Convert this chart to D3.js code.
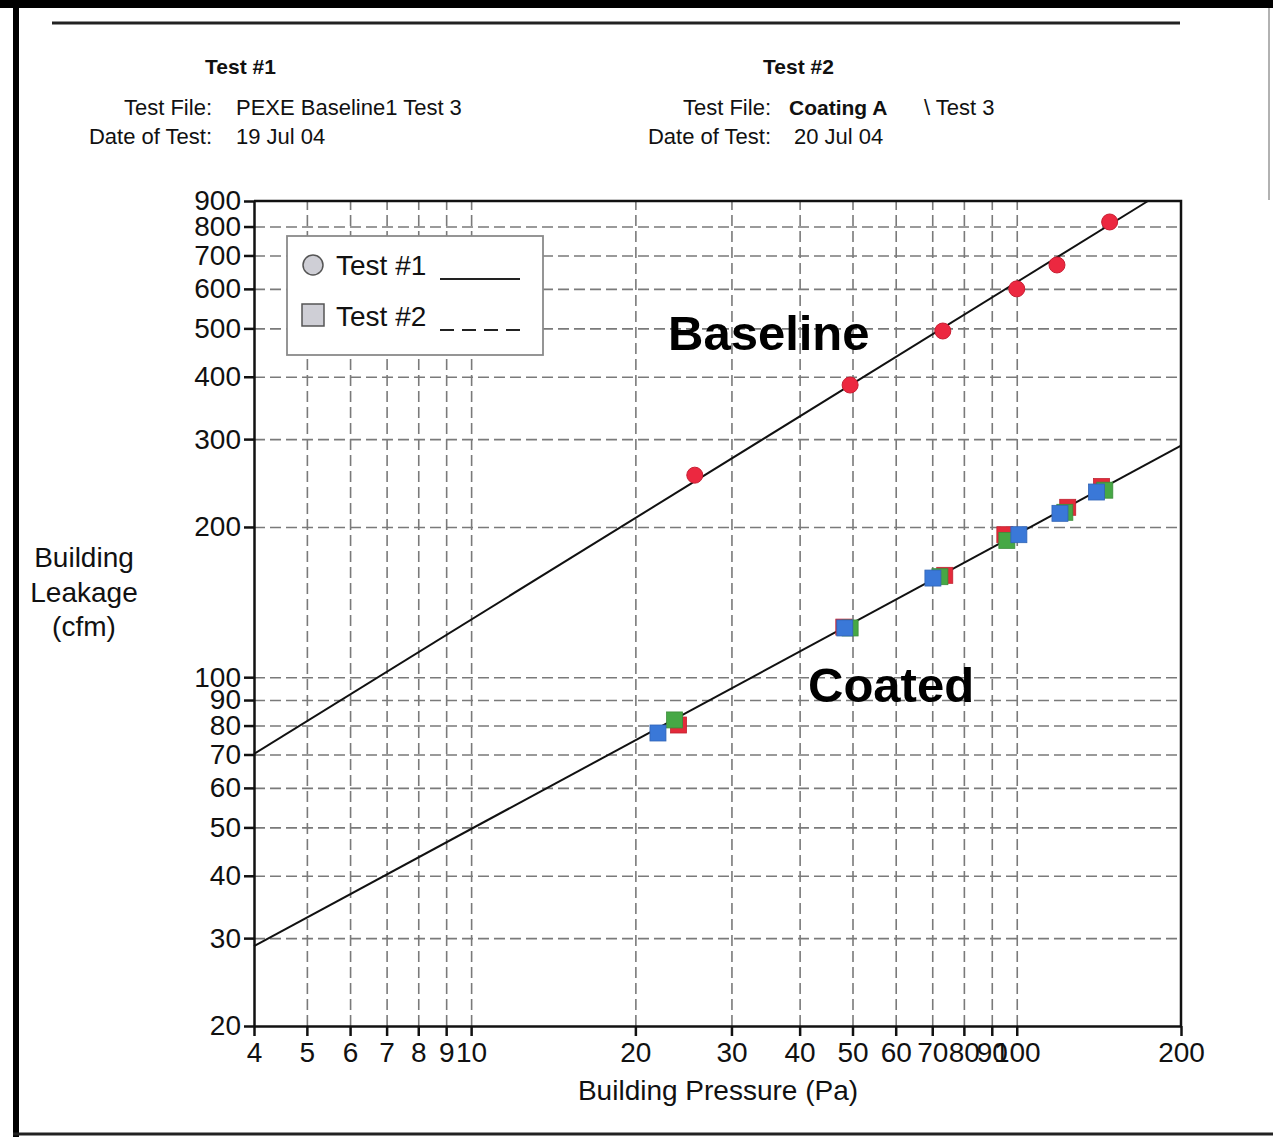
<!DOCTYPE html>
<html>
<head>
<meta charset="utf-8">
<script src="https://cdn.jsdelivr.net/npm/d3@7"></script>
<style>
  body { margin: 0; background: #fff; }
  svg { display: block; font-family: "Liberation Sans", Arial, sans-serif; }
  .grid line { stroke: #7a7a7a; stroke-width: 1.6; stroke-dasharray: 11,5; }
  .grid path { display: none; }
  .axis path, .axis line { stroke: #111; stroke-width: 2.5; }
  .axis text { font-size: 28px; fill: #111; }
</style>
</head>
<body>
<div id="chart"></div>
<script>
// values
const xTicks = [4, 5, 6, 7, 8, 9, 10, 20, 30, 40, 50, 60, 70, 80, 90, 100, 200];
const yTicks = [20, 30, 40, 50, 60, 70, 80, 90, 100, 200, 300, 400, 500, 600, 700, 800, 900];
const xGrid = [5, 6, 7, 8, 9, 10, 20, 30, 40, 50, 60, 70, 80, 90, 100];
const yGrid = [30, 40, 50, 60, 70, 80, 90, 100, 200, 300, 400, 500, 600, 700, 800];

// test #1 (baseline)
const pressure1 = [25.7, 49.5, 73.2, 100, 118.5, 148];
const flow1 = [254, 385, 494, 600, 670, 817];
const fitBaseline = [[4, 70.2], [174, 900]];

// test #2 (coated), three overlapping runs
const pressureRed = [24.0, 48.2, 73.8, 95.1, 124, 143];
const flowRed = [80.2, 126, 160, 193, 219, 241];
const pressureGreen = [23.6, 49.5, 72.3, 95.9, 122.5, 145];
const flowGreen = [82.1, 125.5, 159, 188, 214, 237];
const pressureBlue = [22.0, 48.4, 70.2, 100.9, 120, 140];
const flowBlue = [77.3, 125.5, 158, 193, 213, 235];
const fitCoated = [[4, 28.9], [200, 291]];

const W = 1273, H = 1137;
const plotLeft = 254, plotRight = 1181, plotTop = 201, plotBottom = 1026;

const svg = d3.select("#chart").append("svg")
    .attr("width", W)
    .attr("height", H);

svg.append("rect").attr("width", W).attr("height", H).attr("fill", "#fff");

// scan frame
svg.append("rect").attr("x", 0).attr("y", 0).attr("width", W).attr("height", 8).attr("fill", "#000");
svg.append("rect").attr("x", 13).attr("y", 0).attr("width", 6).attr("height", H).attr("fill", "#000");
svg.append("line").attr("x1", 13).attr("x2", W).attr("y1", 1134).attr("y2", 1134)
   .attr("stroke", "#222").attr("stroke-width", 3);
svg.append("line").attr("x1", 1269).attr("x2", 1269).attr("y1", 8).attr("y2", 200)
   .attr("stroke", "#999").attr("stroke-width", 1.5);
svg.append("line").attr("x1", 52).attr("x2", 1180).attr("y1", 23).attr("y2", 23)
   .attr("stroke", "#222").attr("stroke-width", 3);

// header
const header = [
    { x: 205, y: 74, text: "Test #1", anchor: "start", weight: "bold", size: 21 },
    { x: 212, y: 115, text: "Test File:", anchor: "end", weight: "normal", size: 22 },
    { x: 236, y: 115, text: "PEXE Baseline1 Test 3", anchor: "start", weight: "normal", size: 22 },
    { x: 212, y: 144, text: "Date of Test:", anchor: "end", weight: "normal", size: 22 },
    { x: 236, y: 144, text: "19 Jul 04", anchor: "start", weight: "normal", size: 22 },
    { x: 763, y: 74, text: "Test #2", anchor: "start", weight: "bold", size: 21 },
    { x: 771, y: 115, text: "Test File:", anchor: "end", weight: "normal", size: 22 },
    { x: 789, y: 115, text: "Coating A", anchor: "start", weight: "bold", size: 21 },
    { x: 924, y: 115, text: "\\ Test 3", anchor: "start", weight: "normal", size: 22 },
    { x: 771, y: 144, text: "Date of Test:", anchor: "end", weight: "normal", size: 22 },
    { x: 794, y: 144, text: "20 Jul 04", anchor: "start", weight: "normal", size: 22 }
];
svg.selectAll(".hdr")
   .data(header)
   .enter()
   .append("text")
   .attr("class", "hdr")
   .attr("x", d => d.x)
   .attr("y", d => d.y)
   .attr("text-anchor", d => d.anchor)
   .attr("font-weight", d => d.weight)
   .attr("font-size", d => d.size + "px")
   .attr("fill", "#111")
   .text(d => d.text);

const xScale = d3.scaleLog().domain([4, 200]).range([plotLeft, plotRight]);
const yScale = d3.scaleLog().domain([20, 900]).range([plotBottom, plotTop]);

// dashed grid
svg.append("g")
   .attr("class", "grid")
   .attr("transform", `translate(0, ${plotBottom})`)
   .call(d3.axisBottom(xScale).tickValues(xGrid).tickSize(-(plotBottom - plotTop)).tickFormat(""));
svg.append("g")
   .attr("class", "grid")
   .attr("transform", `translate(${plotLeft}, 0)`)
   .call(d3.axisLeft(yScale).tickValues(yGrid).tickSize(-(plotRight - plotLeft)).tickFormat(""));

// plot frame top and right
svg.append("path")
   .attr("d", `M${plotLeft},${plotTop}H${plotRight}V${plotBottom}`)
   .attr("fill", "none")
   .attr("stroke", "#111")
   .attr("stroke-width", 2.5);

// axes
svg.append("g")
   .attr("class", "axis")
   .attr("transform", `translate(0, ${plotBottom})`)
   .call(d3.axisBottom(xScale).tickValues(xTicks).tickSize(10).tickSizeOuter(0).tickPadding(6).tickFormat(d3.format("d")));
svg.append("g")
   .attr("class", "axis")
   .attr("transform", `translate(${plotLeft}, 0)`)
   .call(d3.axisLeft(yScale).tickValues(yTicks).tickSize(10).tickSizeOuter(0).tickPadding(3).tickFormat(d3.format("d")));

// axis titles
svg.append("text")
   .attr("x", 718)
   .attr("y", 1100)
   .attr("text-anchor", "middle")
   .attr("font-size", "28px")
   .attr("fill", "#111")
   .text("Building Pressure (Pa)");

svg.append("text")
   .attr("text-anchor", "middle")
   .attr("font-size", "28px")
   .attr("fill", "#111")
   .selectAll("tspan")
   .data(["Building", "Leakage", "(cfm)"])
   .enter()
   .append("tspan")
   .attr("x", 84)
   .attr("y", (d, i) => 567 + i * 34.5)
   .text(d => d);

// fitted lines
const line = d3.line().x(d => xScale(d[0])).y(d => yScale(d[1]));
svg.append("path").datum(fitBaseline).attr("d", line)
   .attr("fill", "none").attr("stroke", "#111").attr("stroke-width", 2);
svg.append("path").datum(fitCoated).attr("d", line)
   .attr("fill", "none").attr("stroke", "#111").attr("stroke-width", 2);

// test #1 points
svg.selectAll(".pt1")
   .data(pressure1)
   .enter()
   .append("circle")
   .attr("class", "pt1")
   .attr("cx", d => xScale(d))
   .attr("cy", (d, i) => yScale(flow1[i]))
   .attr("r", 8)
   .attr("fill", "#ec2840")
   .attr("stroke", "#c81e32")
   .attr("stroke-width", 1);

// test #2 runs
const runs = [
    { px: pressureRed, fy: flowRed, color: "#e42a3a" },
    { px: pressureGreen, fy: flowGreen, color: "#46a845" },
    { px: pressureBlue, fy: flowBlue, color: "#3a78d8" }
];
const sq = 16;
runs.forEach((run, k) => {
    svg.selectAll(".run" + k)
       .data(run.px)
       .enter()
       .append("rect")
       .attr("class", "run" + k)
       .attr("x", d => xScale(d) - sq / 2)
       .attr("y", (d, i) => yScale(run.fy[i]) - sq / 2)
       .attr("width", sq)
       .attr("height", sq)
       .attr("fill", run.color)
       .attr("stroke", d3.color(run.color).darker(0.5))
       .attr("stroke-width", 0.8);
});

// labels on the lines
svg.append("text").attr("x", 668).attr("y", 350)
   .attr("font-size", "49px").attr("font-weight", "bold").attr("fill", "#000")
   .text("Baseline");
svg.append("text").attr("x", 808).attr("y", 702)
   .attr("font-size", "49px").attr("font-weight", "bold").attr("fill", "#000")
   .text("Coated");

// legend
const legend = svg.append("g");
legend.append("rect")
   .attr("x", 287).attr("y", 236).attr("width", 256).attr("height", 119)
   .attr("fill", "#fff").attr("stroke", "#8a8a8a").attr("stroke-width", 1.8);
legend.append("circle")
   .attr("cx", 313).attr("cy", 265).attr("r", 10)
   .attr("fill", "#cfcfd6").attr("stroke", "#555").attr("stroke-width", 1.5);
legend.append("rect")
   .attr("x", 302).attr("y", 304).attr("width", 22).attr("height", 22)
   .attr("fill", "#cfcfd6").attr("stroke", "#555").attr("stroke-width", 1.5);
legend.append("text").attr("x", 336).attr("y", 275)
   .attr("font-size", "28px").attr("fill", "#111").text("Test #1");
legend.append("text").attr("x", 336).attr("y", 326)
   .attr("font-size", "28px").attr("fill", "#111").text("Test #2");
legend.append("line")
   .attr("x1", 440).attr("x2", 520).attr("y1", 279).attr("y2", 279)
   .attr("stroke", "#222").attr("stroke-width", 2);
legend.append("line")
   .attr("x1", 440).attr("x2", 528).attr("y1", 330).attr("y2", 330)
   .attr("stroke", "#222").attr("stroke-width", 2).attr("stroke-dasharray", "14,8");
</script>
</body>
</html>
